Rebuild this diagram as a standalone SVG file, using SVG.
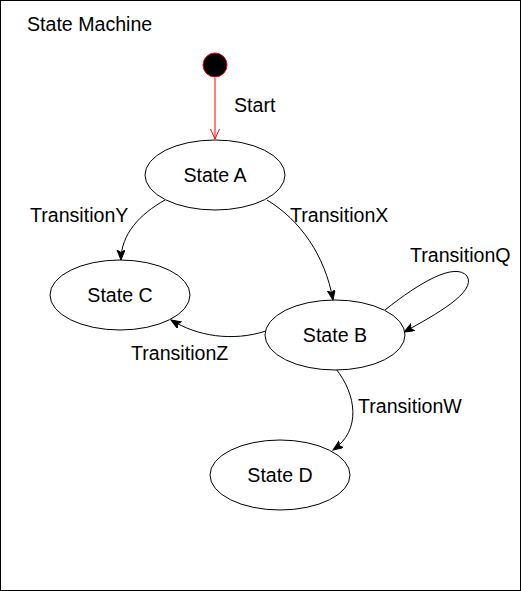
<svg xmlns="http://www.w3.org/2000/svg" width="521" height="591" viewBox="0 0 521 591">
  <style>
    .state ellipse { fill: #ffffff; stroke: #000000; stroke-width: 1; }
    .lbl { font-family: "Liberation Sans", Arial, Helvetica, sans-serif; font-size: 19.6px; fill: #000000; }
    .mid { text-anchor: middle; }
    .edge { fill: none; stroke: #000000; stroke-width: 1; }
  </style>
  <defs>
    <marker id="arrow" markerUnits="userSpaceOnUse" markerWidth="12" markerHeight="10" viewBox="0 0 12 10" refX="10" refY="4" orient="auto">
      <path d="M0,0 L10,4 L0,8 L2.5,4 Z" fill="#000000" stroke="#000000" stroke-width="1" stroke-linejoin="miter"/>
    </marker>
    <marker id="openRed" markerUnits="userSpaceOnUse" markerWidth="12" markerHeight="12" viewBox="0 0 12 12" refX="10" refY="5" orient="auto">
      <path d="M0,0.5 L10,5 L0,9.5" fill="none" stroke="#ff0000" stroke-width="1"/>
    </marker>
  </defs>

  <rect x="0.5" y="0.5" width="520" height="590" fill="#ffffff" stroke="#000000" stroke-width="1"/>
  <text class="lbl" x="27" y="31">State Machine</text>

  <g id="connectors">
    <path class="edge" d="M215,78 L215,139" style="stroke:#ff0000" marker-end="url(#openRed)"/>
    <path class="edge" d="M165,200 C140,214 121,234 121,260" marker-end="url(#arrow)"/>
    <path class="edge" d="M267,200 C300,220 325,255 333,300" marker-end="url(#arrow)"/>
    <path class="edge" d="M385,310 C420,282 455,262 467,276 C477,292 435,315 404,332" marker-end="url(#arrow)"/>
    <path class="edge" d="M266,331 C232,342 197,336 171,320" marker-end="url(#arrow)"/>
    <path class="edge" d="M336,369 C356,394 362,430 333,450" marker-end="url(#arrow)"/>
    <text class="lbl" x="234" y="112">Start</text>
    <text class="lbl" x="30" y="222">TransitionY</text>
    <text class="lbl" x="290" y="222">TransitionX</text>
    <text class="lbl" x="410" y="262">TransitionQ</text>
    <text class="lbl" x="131" y="360">TransitionZ</text>
    <text class="lbl" x="358" y="413">TransitionW</text>
  </g>

  <g id="start">
    <circle cx="215" cy="65" r="12" fill="#000000" stroke="#ff0000" stroke-width="1"/>
  </g>
  <g id="stateA" class="state">
    <ellipse cx="215" cy="175" rx="70" ry="35"/>
    <text class="lbl mid" x="215" y="182">State A</text>
  </g>
  <g id="stateC" class="state">
    <ellipse cx="120" cy="295" rx="70" ry="35"/>
    <text class="lbl mid" x="120" y="302">State C</text>
  </g>
  <g id="stateB" class="state">
    <ellipse cx="335" cy="335" rx="70" ry="35"/>
    <text class="lbl mid" x="335" y="342">State B</text>
  </g>
  <g id="stateD" class="state">
    <ellipse cx="280" cy="475" rx="70" ry="35"/>
    <text class="lbl mid" x="280" y="482">State D</text>
  </g>
</svg>
